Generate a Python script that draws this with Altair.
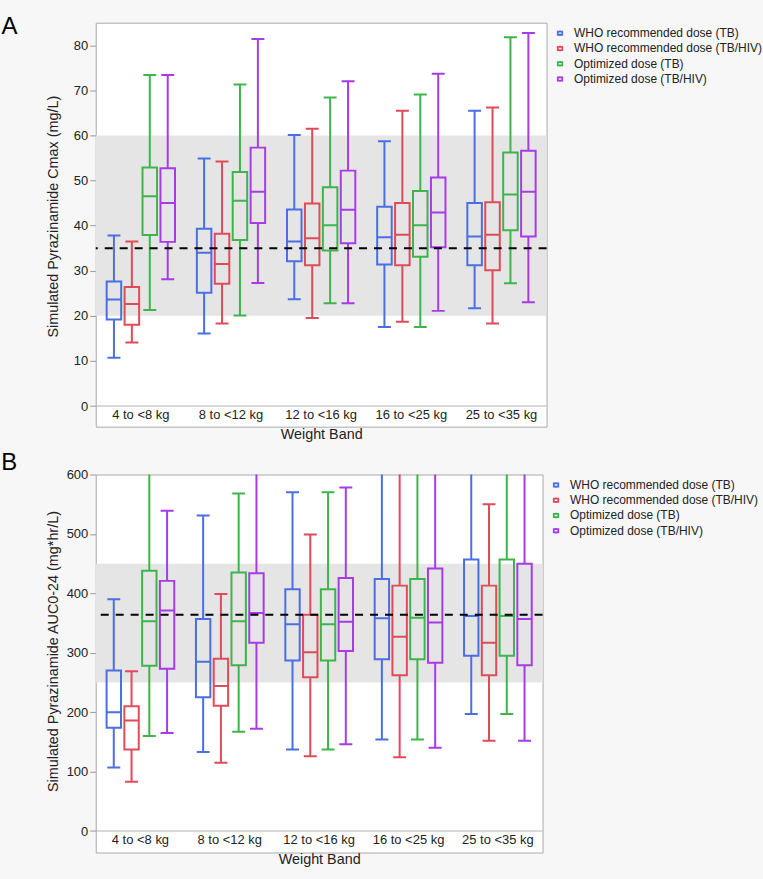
import altair as alt
import pandas as pd

groups = ["4 to <8 kg", "8 to <12 kg", "12 to <16 kg", "16 to <25 kg", "25 to <35 kg"]
series = ["WHO recommended dose (TB)", "WHO recommended dose (TB/HIV)",
          "Optimized dose (TB)", "Optimized dose (TB/HIV)"]
colors = ["#4a6fe3", "#e04b5a", "#3db54a", "#a83be6"]

# Panel A: Cmax (mg/L); order: for each weight band, the 4 series
a_low = [10.7, 14.1, 21.3, 28.1, 16.1, 18.3, 20.1, 27.3, 23.7, 19.5, 22.8, 22.8,
         17.5, 18.7, 17.5, 21.1, 21.7, 18.3, 27.2, 23.0]
a_q1 = [19.2, 18.0, 37.9, 36.4, 25.1, 27.1, 36.8, 40.6, 32.1, 31.2, 34.5, 36.1,
        31.4, 31.2, 33.1, 35.2, 31.2, 30.1, 39.0, 37.6]
a_med = [23.6, 22.6, 46.5, 45.0, 34.0, 31.5, 45.5, 47.5, 36.5, 37.2, 40.1, 43.5,
         37.4, 38.0, 40.1, 42.9, 37.6, 38.0, 46.9, 47.5]
a_q3 = [27.6, 26.4, 52.9, 52.7, 39.3, 38.2, 51.9, 57.3, 43.6, 44.9, 48.5, 52.2,
        44.2, 45.0, 47.7, 50.7, 45.0, 45.2, 56.2, 56.6]
a_high = [37.8, 36.5, 73.4, 73.4, 54.9, 54.2, 71.3, 81.4, 60.1, 61.5, 68.4, 72.0,
          58.7, 65.5, 69.1, 73.7, 65.5, 66.2, 81.8, 82.7]
a_band = [20, 60]
a_target = [35]

# Panel B: AUC0-24 (mg*hr/L)
b_low = [107, 83, 160, 165, 133, 115, 167, 172, 137, 126, 137, 146,
         154, 124, 154, 140, 197, 152, 197, 152]
b_q1 = [174, 137, 278, 273, 225, 211, 279, 317, 287, 259, 287, 303,
        289, 262, 289, 283, 295, 262, 295, 279]
b_med = [200, 186, 353, 371, 285, 244, 353, 367, 348, 301, 348, 352,
         358, 327, 359, 351, 362, 317, 362, 357]
b_q3 = [270, 210, 438, 421, 357, 290, 435, 434, 407, 364, 407, 426,
        424, 413, 424, 442, 457, 413, 457, 450]
b_high = [390, 269, 660, 539, 531, 399, 568, 640, 570, 499, 570, 578,
          680, 700, 680, 720, 740, 550, 740, 740]
b_band = [250, 450]
b_target = [364]

FONT = "Liberation Sans"
TXT = "#222222"
ICON = "M-0.45,-0.32H0.45V0.32H-0.45Z M0,-0.32V-0.55 M0,0.32V0.55"


def make_df(low, q1, med, q3, high):
    rows = []
    i = 0
    for g in groups:
        for s in series:
            rows.append({"band": g, "series": s, "low": low[i], "q1": q1[i],
                         "med": med[i], "q3": q3[i], "high": high[i]})
            i += 1
    return pd.DataFrame(rows)


def panel(df, band, target, ymin, ymax, step, ytitle, letter, width, height,
          axis_off, title_y, title_pad, letter_offset):
    yscale = alt.Scale(domain=[ymin, ymax], nice=False, zero=False)
    vals = [v for v in range(0, int(ymax) + 1, step // 2) if v < ymax or v % step == 0]
    xenc = alt.X("band:N", sort=groups, scale=alt.Scale(paddingInner=0, paddingOuter=0),
                 axis=alt.Axis(title="Weight Band", domain=False, ticks=False, labelAngle=0,
                               labelPadding=3, offset=axis_off, titlePadding=6,
                               labelFontSize=13, titleFontSize=14.4))
    xoff = alt.XOffset("series:N", sort=series,
                       scale=alt.Scale(paddingInner=0.19, paddingOuter=0.61))
    col = alt.Color("series:N", sort=series,
                    scale=alt.Scale(domain=series, range=colors),
                    legend=alt.Legend(title=None, symbolType=ICON, symbolSize=100,
                                      symbolStrokeWidth=1.8,
                                      labelFontSize=12, labelFont=FONT, labelColor=TXT,
                                      labelLimit=260, labelOffset=8,
                                      rowPadding=1.3, padding=0,
                                      orient="none", legendX=width + 7.5, legendY=4.5))
    yaxis = alt.Axis(title=ytitle, values=vals, domain=False, grid=False,
                     labelExpr=f"datum.value % {step} === 0 ? datum.label : ''",
                     tickSize={"condition": {"test": f"datum.value % {step} === 0", "value": 6},
                               "value": 3},
                     tickColor="#999999", labelPadding=2, titlePadding=title_pad,
                     labelFontSize=13, titleFontSize=14.4, titleY=title_y)

    base = alt.Chart(df)
    band_df = pd.DataFrame({"lo": [band[0]], "hi": [band[1]]})
    shade = alt.Chart(band_df).mark_rect(color="#e5e5e5").encode(
        y=alt.Y("lo:Q", scale=yscale, axis=yaxis), y2="hi:Q")
    zero = alt.Chart(pd.DataFrame({"z": [0]})).mark_rule(color="#b3b3b3", strokeWidth=1).encode(
        y="z:Q")
    lower = base.mark_rule(strokeWidth=2, clip=True).encode(
        x=xenc, xOffset=xoff, y="low:Q", y2="q1:Q", color=col)
    upper = base.mark_rule(strokeWidth=2, clip=True).encode(
        x=xenc, xOffset=xoff, y="q3:Q", y2="high:Q", color=col)
    box = base.mark_bar(filled=False, strokeWidth=2, clip=True).encode(
        x=xenc, xOffset=xoff, y="q1:Q", y2="q3:Q", color=col)
    med = base.mark_bar(filled=False, strokeWidth=2, clip=True).encode(
        x=xenc, xOffset=xoff, y="med:Q", y2="med:Q", color=col)
    capl = base.mark_bar(filled=False, strokeWidth=2, width=13, clip=True).encode(
        x=xenc, xOffset=xoff, y="low:Q", y2="low:Q", color=col)
    caph = base.mark_bar(filled=False, strokeWidth=2, width=13, clip=True).encode(
        x=xenc, xOffset=xoff, y="high:Q", y2="high:Q", color=col)
    dash = alt.Chart(pd.DataFrame({"t": target})).mark_rule(
        color="black", strokeWidth=2, strokeDash=[8, 7]).encode(y="t:Q")

    return alt.layer(shade, zero, lower, upper, box, med, capl, caph, dash).properties(
        width=width, height=height,
        title=alt.Title(letter, anchor="start", fontSize=24, fontWeight="normal",
                        font=FONT, color="black", dx=-44, offset=letter_offset))


dfa = make_df(a_low, a_q1, a_med, a_q3, a_high)
dfb = make_df(b_low, b_q1, b_med, b_q3, b_high)

pa = panel(dfa, a_band, a_target, -4.57, 85, 10, "Simulated Pyrazinamide Cmax (mg/L)", "A",
           452, 405, -20.7, 194, 13, -16.5)
pb = panel(dfb, b_band, b_target, -36.2, 600, 50, "Simulated Pyrazinamide AUC0-24 (mg*hr/L)", "B",
           448, 379, -21.6, 177, 6, -6.5)

chart = alt.concat(pa, pb, columns=1, spacing=8).resolve_scale(
    color="independent", y="independent", x="independent", xOffset="independent"
).configure(
    background="#f7f7f7",
    padding={"left": 0, "top": 13.6, "right": 0, "bottom": 20},
    font=FONT,
).configure_view(
    stroke="#aaaaaa", strokeWidth=1, fill="white"
).configure_axis(
    labelFont=FONT, titleFont=FONT, labelColor=TXT, titleColor=TXT, titleFontWeight="normal"
)

chart.save("out.html", embed_options={"renderer": "svg", "actions": False})
